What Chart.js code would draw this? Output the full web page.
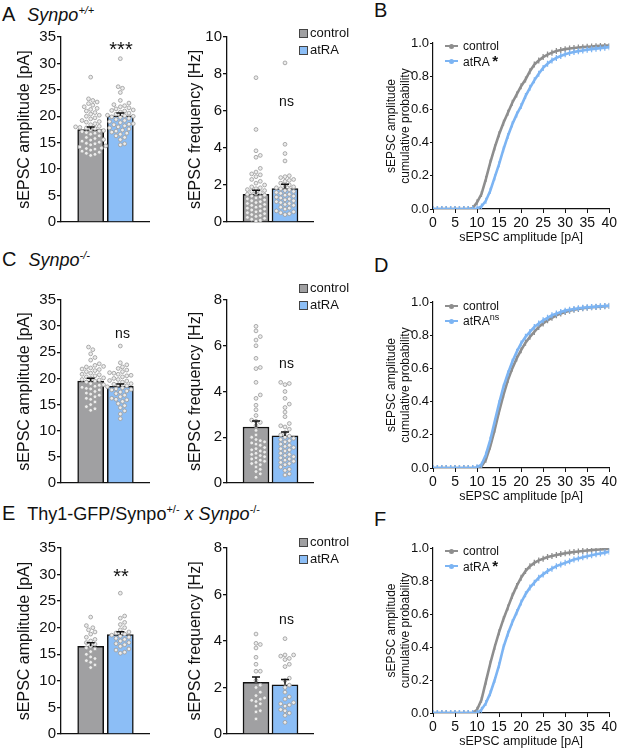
<!DOCTYPE html>
<html>
<head>
<meta charset="utf-8">
<script src="https://cdn.jsdelivr.net/npm/chart.js@4.4.0/dist/chart.umd.min.js"></script>
<style>
  body { margin: 0; background: #fff; font-family: "Liberation Sans", Arial, sans-serif; color: #111; }
  #fig { position: relative; width: 617px; height: 748px; overflow: hidden; }
  #fig canvas, .t { position: absolute; }
  .t { white-space: nowrap; }
  .head { font-size: 20px; line-height: 20px; }
  .head .g { font-style: italic; font-size: 18px; margin-left: 12px; }
  .head sup { font-size: 11px; vertical-align: 7px; line-height: 0; }
  .leg { font-size: 13px; line-height: 16px; }
  .cleg { font-size: 12px; line-height: 16px; }
  .cleg sup { font-size: 9px; vertical-align: 5px; line-height: 0; }
  .sig { width: 60px; text-align: center; }
</style>
</head>
<body>
<div id="fig"></div>
<script>
const groups = ['control', 'atRA'];

// bar heights (mean) and SEM
const ampMeanA = [17.5, 20.1];
const ampSemA = [0.45, 0.5];
const freqMeanA = [1.5, 1.81];
const freqSemA = [0.21, 0.23];
const ampMeanC = [19.5, 18.5];
const ampSemC = [0.55, 0.45];
const freqMeanC = [2.45, 2.06];
const freqSemC = [0.26, 0.17];
const ampMeanE = [16.5, 18.7];
const ampSemE = [0.65, 0.55];
const freqMeanE = [2.22, 2.12];
const freqSemE = [0.23, 0.22];

// single cells
const ampCtrlA = [27.4, 23.3, 23.0, 22.7, 22.4, 22.1, 21.8, 21.5, 21.3, 21.0, 20.7, 20.4, 20.2, 20.0, 19.7, 19.5, 19.2, 18.9,
  18.6, 18.4, 18.1, 17.9, 17.8, 17.7, 17.5, 17.3, 17.1, 16.9, 16.6, 16.3, 16.0, 15.8, 15.6, 15.3, 15.1, 14.9, 14.6, 14.4,
  14.2, 14.0, 13.8, 13.6, 13.4, 13.2, 13.0, 12.8, 12.6, 16.8, 17.2, 18.0, 15.5, 19.0, 14.8, 13.9];
const ampAtraA = [30.9, 25.6, 25.3, 24.5, 23.0, 22.5, 22.2, 22.0, 21.8, 21.6, 21.4, 21.2, 21.0, 20.8, 20.6, 20.4, 20.2, 20.0,
  19.8, 19.6, 19.4, 19.2, 19.0, 18.8, 18.6, 18.4, 18.2, 18.0, 17.8, 17.6, 17.4, 17.2, 17.0, 16.8, 16.6, 16.3, 16.0, 15.6,
  14.8, 14.6, 20.1, 19.9, 21.1, 18.5];
const freqCtrlA = [7.8, 5.0, 3.85, 3.6, 3.5, 2.9, 2.7, 2.6, 2.55, 2.45, 2.3, 2.2, 2.0, 1.9, 1.85, 1.8, 1.75, 1.7, 1.6, 1.55,
  1.5, 1.45, 1.4, 1.3, 1.25, 1.2, 1.1, 1.05, 1.0, 0.95, 0.9, 0.85, 0.8, 0.7, 0.65, 0.6, 0.55, 0.5, 0.4, 0.35, 0.3, 0.25,
  0.2, 0.15, 0.1, 1.15, 1.35, 0.75, 0.45, 1.65, 2.1, 0.05];
const freqAtraA = [8.6, 4.2, 3.7, 3.3, 2.5, 2.45, 2.4, 2.3, 2.2, 2.1, 2.0, 1.95, 1.9, 1.85, 1.8, 1.7, 1.6, 1.55, 1.5, 1.45,
  1.4, 1.3, 1.25, 1.2, 1.1, 1.05, 1.0, 0.95, 0.9, 0.8, 0.75, 0.7, 0.6, 0.55, 0.5, 0.45, 0.4, 1.75, 1.65, 2.25, 1.35, 1.15];

const ampCtrlC = [26.0, 25.5, 24.7, 24.0, 23.5, 22.8, 22.5, 22.2, 22.0, 21.8, 21.5, 21.3, 21.0, 20.8, 20.5, 20.3, 20.0, 19.8,
  19.5, 19.3, 19.0, 18.8, 18.5, 18.3, 18.0, 17.8, 17.5, 17.2, 17.0, 16.8, 16.5, 16.2, 16.0, 15.5, 15.0, 14.6, 14.2, 13.9,
  21.7, 20.7, 19.7, 18.7, 22.3, 20.1, 18.1];
const ampAtraC = [26.2, 23.0, 22.6, 22.2, 21.9, 21.6, 21.3, 21.0, 20.8, 20.5, 20.3, 20.0, 19.8, 19.5, 19.3, 19.0, 18.8, 18.6,
  18.4, 18.2, 18.0, 17.8, 17.6, 17.4, 17.1, 16.8, 16.5, 16.2, 15.9, 15.6, 15.2, 14.8, 14.4, 13.8, 13.2, 12.3, 20.6, 19.6,
  18.9, 17.9, 21.1, 16.0];
const freqCtrlC = [6.85, 6.65, 6.4, 6.25, 6.0, 5.45, 5.05, 5.0, 4.4, 3.85, 3.7, 3.4, 3.2, 2.95, 2.75, 2.7, 2.65, 2.5, 2.3,
  2.1, 2.0, 1.9, 1.85, 1.8, 1.7, 1.65, 1.55, 1.5, 1.45, 1.4, 1.35, 1.3, 1.25, 1.2, 1.1, 1.05, 1.0, 0.95, 0.9, 0.8, 0.7,
  0.6, 0.5, 0.4, 0.25, 1.75, 1.15, 0.85];
const freqAtraC = [4.4, 4.35, 4.3, 4.0, 3.7, 3.45, 3.3, 3.1, 2.9, 2.6, 2.5, 2.45, 2.35, 2.2, 2.1, 2.05, 2.0, 1.95, 1.9, 1.85,
  1.8, 1.7, 1.6, 1.55, 1.5, 1.45, 1.4, 1.3, 1.2, 1.15, 1.1, 1.05, 1.0, 0.9, 0.85, 0.8, 0.7, 0.6, 0.55, 0.4, 0.35, 1.65,
  1.25, 0.95];

const ampCtrlE = [22.0, 20.4, 20.0, 19.6, 19.2, 18.8, 18.2, 17.8, 17.5, 17.2, 16.9, 16.5, 16.0, 15.5, 15.0, 14.5, 14.2,
  13.8, 13.5, 13.0, 12.5, 16.2];
const ampAtraE = [26.5, 22.2, 21.8, 21.0, 20.6, 20.0, 19.6, 19.2, 19.0, 18.8, 18.6, 18.4, 18.2, 18.0, 17.8, 17.5, 17.2,
  17.0, 16.8, 16.5, 16.0, 15.8, 15.4, 15.2];
const freqCtrlE = [4.3, 3.9, 3.85, 3.7, 3.3, 3.0, 2.7, 2.7, 2.3, 2.1, 2.0, 1.8, 1.65, 1.5, 1.45, 1.4, 1.3, 1.2, 1.0, 0.95,
  0.65, 1.55];
const freqAtraE = [4.1, 3.4, 3.4, 3.35, 3.25, 3.2, 3.0, 2.9, 2.4, 2.3, 2.0, 1.8, 1.6, 1.35, 1.3, 1.25, 1.2, 1.05, 1.0, 0.9,
  0.8, 0.5, 1.5, 2.1];

// cumulative probability, 1 pA bins
const cumX = [0, 1, 2, 3, 4, 5, 6, 7, 8, 9, 10, 11, 12, 13, 14, 15, 16, 17, 18, 19, 20,
  21, 22, 23, 24, 25, 26, 27, 28, 29, 30, 31, 32, 33, 34, 35, 36, 37, 38, 39, 40];
const cumCtrlB = [0, 0, 0, 0, 0, 0, 0, 0, 0, 0.005, 0.04, 0.09, 0.18, 0.28, 0.37, 0.45, 0.52, 0.58, 0.64, 0.69, 0.74,
  0.78, 0.83, 0.87, 0.895, 0.915, 0.93, 0.942, 0.952, 0.958, 0.963, 0.967, 0.97, 0.973, 0.975, 0.977, 0.979, 0.981, 0.983, 0.984, 0.985];
const cumAtraB = [0, 0, 0, 0, 0, 0, 0, 0, 0, 0, 0.003, 0.015, 0.05, 0.11, 0.19, 0.27, 0.36, 0.44, 0.51, 0.57, 0.62,
  0.68, 0.73, 0.775, 0.815, 0.85, 0.875, 0.895, 0.91, 0.922, 0.932, 0.94, 0.946, 0.951, 0.955, 0.959, 0.963, 0.966, 0.969, 0.972, 0.975];
const cumCtrlD = [0, 0, 0, 0, 0, 0, 0, 0, 0, 0, 0, 0.01, 0.05, 0.13, 0.23, 0.34, 0.44, 0.53, 0.6, 0.66, 0.71,
  0.755, 0.79, 0.82, 0.85, 0.87, 0.89, 0.905, 0.92, 0.93, 0.94, 0.947, 0.953, 0.958, 0.962, 0.965, 0.968, 0.97, 0.972, 0.974, 0.976];
const cumAtraD = [0, 0, 0, 0, 0, 0, 0, 0, 0, 0, 0.005, 0.02, 0.08, 0.17, 0.28, 0.39, 0.49, 0.57, 0.64, 0.7, 0.75,
  0.79, 0.82, 0.85, 0.87, 0.89, 0.905, 0.92, 0.93, 0.94, 0.948, 0.953, 0.958, 0.962, 0.965, 0.968, 0.97, 0.972, 0.974, 0.976, 0.978];
const cumCtrlF = [0, 0, 0, 0, 0, 0, 0, 0, 0, 0, 0.02, 0.08, 0.19, 0.3, 0.4, 0.49, 0.57, 0.64, 0.71, 0.77, 0.82,
  0.86, 0.89, 0.91, 0.925, 0.935, 0.945, 0.952, 0.958, 0.963, 0.968, 0.972, 0.976, 0.979, 0.982, 0.985, 0.987, 0.989, 0.991, 0.993, 0.995];
const cumAtraF = [0, 0, 0, 0, 0, 0, 0, 0, 0, 0, 0, 0.02, 0.06, 0.12, 0.2, 0.29, 0.4, 0.48, 0.55, 0.61, 0.67,
  0.72, 0.76, 0.79, 0.82, 0.84, 0.86, 0.875, 0.89, 0.9, 0.91, 0.92, 0.93, 0.937, 0.944, 0.95, 0.956, 0.962, 0.967, 0.972, 0.977];

const gray = '#a0a0a2';
const blue = '#8cbef6';
const lineGray = '#8e8e8e';
const lineBlue = '#7cb4f3';
const ink = '#111';

Chart.defaults.font.family = "'Liberation Sans', Arial, sans-serif";
Chart.defaults.color = ink;
Chart.defaults.animation = false;

const fig = document.getElementById('fig');

function makeCanvas(x, y, w, h) {
  const c = document.createElement('canvas');
  c.width = w;
  c.height = h;
  c.style.left = x + 'px';
  c.style.top = y + 'px';
  fig.appendChild(c);
  return c;
}

function label(x, y, cls, html) {
  const d = document.createElement('div');
  d.className = 't ' + cls;
  d.style.left = x + 'px';
  d.style.top = y + 'px';
  d.innerHTML = html;
  fig.appendChild(d);
  return d;
}

// spread dots sideways so they don't overlap (pixel space)
function swarm(vals, pxX, pxY) {
  const d = 4.3;
  const idx = vals.map((v, i) => i).sort((a, b) => vals[a] - vals[b]);
  const placed = [];
  const off = [];
  idx.forEach(i => {
    const py = vals[i] * pxY;
    for (let k = 0; k < 200; k++) {
      const dx = (k % 2 ? 1 : -1) * Math.ceil(k / 2) * d / 2;
      if (placed.every(q => (q.x - dx) ** 2 + (q.y - py) ** 2 >= d * d)) {
        placed.push({ x: dx, y: py });
        off[i] = dx / pxX;
        break;
      }
    }
  });
  return off;
}

const semBars = {
  id: 'semBars',
  afterDatasetsDraw(chart, args, opts) {
    const { ctx, scales: { x, y } } = chart;
    ctx.save();
    ctx.strokeStyle = ink;
    ctx.lineWidth = 1.5;
    opts.mean.forEach((m, i) => {
      const px = x.getPixelForValue(i + 1);
      const y0 = y.getPixelForValue(m);
      const y1 = y.getPixelForValue(m + opts.sem[i]);
      ctx.beginPath();
      ctx.moveTo(px, y0);
      ctx.lineTo(px, y1);
      ctx.moveTo(px - 4, y1);
      ctx.lineTo(px + 4, y1);
      ctx.stroke();
    });
    ctx.restore();
  }
};

function barPanel(p) {
  const h = p.bottom - p.top;
  const pxY = h / p.max;
  const pxX = (p.right - p.axisX) / 3;
  const dots = [];
  [p.ctrl, p.atra].forEach((vals, g) => {
    swarm(vals, pxX, pxY).forEach((dx, i) => dots.push({ x: g + 1 + dx, y: vals[i] }));
  });
  const cv = makeCanvas(p.left, p.top - 10, p.right - p.left, h + 20);
  new Chart(cv, {
    type: 'bar',
    data: {
      datasets: [
        {
          type: 'scatter', data: dots, order: 0,
          pointRadius: 1.9, pointBorderWidth: 0.8,
          pointBackgroundColor: '#ececec', pointBorderColor: '#999'
        },
        {
          type: 'bar', order: 1,
          data: groups.map((g, i) => ({ x: i + 1, y: p.mean[i] })),
          backgroundColor: [gray, blue], borderColor: ink, borderWidth: 1.5,
          barThickness: 26, grouped: false
        }
      ]
    },
    options: {
      responsive: false,
      events: [],
      layout: { autoPadding: false, padding: { top: 10, bottom: 10, left: 0, right: 0 } },
      plugins: { legend: { display: false }, tooltip: { enabled: false }, semBars: { mean: p.mean, sem: p.sem } },
      scales: {
        x: {
          type: 'linear', min: 0, max: 3, offset: false,
          ticks: { display: false },
          grid: { display: false, offset: false },
          border: { color: ink, width: 1.3 },
          afterFit: s => { s.height = 0; }
        },
        y: {
          min: 0, max: p.max,
          ticks: { stepSize: p.step, font: { size: 15 }, padding: 1, color: ink },
          grid: { drawOnChartArea: false, tickLength: 4, color: ink, lineWidth: 1.3 },
          border: { color: ink, width: 1.3 },
          title: { display: true, text: p.title, font: { size: 16 }, color: ink, padding: { top: p.titlePad, bottom: 0 } },
          afterFit: s => { s.width = p.axisX - p.left; }
        }
      }
    },
    plugins: [semBars]
  });
}

function curve(vals, color) {
  return {
    data: cumX.map((x, i) => ({ x, y: vals[i] })),
    borderColor: color, borderWidth: 2.6,
    pointStyle: 'line', rotation: 90, pointRadius: 3,
    pointBorderColor: color, pointBorderWidth: 1.3,
    tension: 0
  };
}

function cumPanel(p) {
  const h = p.bottom - p.top;
  const cv = makeCanvas(380, p.top - 9, 239, h + 9 + 36 + 4);
  new Chart(cv, {
    type: 'line',
    data: { datasets: [curve(p.atra, lineBlue), curve(p.ctrl, lineGray)] },
    options: {
      responsive: false,
      events: [],
      layout: { autoPadding: false, padding: { top: 9, bottom: 4, left: 0, right: 9 } },
      plugins: { legend: { display: false }, tooltip: { enabled: false } },
      scales: {
        x: {
          type: 'linear', min: 0, max: 40,
          ticks: { stepSize: 5, font: { size: 14 }, padding: 2, color: ink },
          grid: { drawOnChartArea: false, tickLength: 4, color: ink },
          border: { color: ink, width: 1.2 },
          title: { display: true, text: 'sEPSC amplitude [pA]', font: { size: 12.5 }, color: ink, padding: { top: 0, bottom: 0 } },
          afterFit: s => { s.height = 36; }
        },
        y: {
          min: 0, max: 1,
          ticks: { stepSize: 0.2, font: { size: 13 }, padding: 1, color: ink, callback: v => v.toFixed(1) },
          grid: { drawOnChartArea: false, tickLength: 3, color: ink },
          border: { color: ink, width: 1.2 },
          title: {
            display: true, text: ['sEPSC amplitude', 'cumulative probability'],
            font: { size: 12 }, color: ink, padding: { top: 4, bottom: 0 }
          },
          afterFit: s => { s.width = 53; }
        }
      }
    }
  });
}

function barLegend(cy) {
  [gray, blue].forEach((c, i) => {
    const y = cy + i * 17;
    const b = label(299, y - 4, '', '');
    b.style.cssText += 'width:7px;height:7px;border:1px solid #444;background:' + c;
    label(310, y - 8, 'leg', groups[i]);
  });
}

function cumLegend(cy, mark) {
  [lineGray, lineBlue].forEach((c, i) => {
    const y = cy + i * 15;
    const l = label(445, y - 1, '', '');
    l.style.cssText += 'width:13px;height:2px;background:' + c;
    const dot = label(449, y - 2.5, '', '');
    dot.style.cssText += 'width:5px;height:5px;border-radius:3px;background:' + c;
    label(463, y - 8, 'cleg', i ? groups[i] + mark : groups[i]);
  });
}

function sig(cx, top, size, text) {
  const d = label(cx - 30, top, 'sig', text);
  d.style.fontSize = size + 'px';
  d.style.lineHeight = size + 'px';
}

// rows: A/B, C/D, E/F
const rows = [
  { amp: [ampCtrlA, ampAtraA, ampMeanA, ampSemA], freq: [freqCtrlA, freqAtraA, freqMeanA, freqSemA], fmax: 10,
    cum: [cumCtrlB, cumAtraB], top: 37, bottom: 222, cTop: 43, cBottom: 209 },
  { amp: [ampCtrlC, ampAtraC, ampMeanC, ampSemC], freq: [freqCtrlC, freqAtraC, freqMeanC, freqSemC], fmax: 8,
    cum: [cumCtrlD, cumAtraD], top: 300, bottom: 483, cTop: 302, cBottom: 468 },
  { amp: [ampCtrlE, ampAtraE, ampMeanE, ampSemE], freq: [freqCtrlE, freqAtraE, freqMeanE, freqSemE], fmax: 8,
    cum: [cumCtrlF, cumAtraF], top: 548, bottom: 734, cTop: 548, cBottom: 713 }
];

rows.forEach(r => {
  barPanel({
    left: 0, axisX: 61, right: 150, top: r.top, bottom: r.bottom, max: 35, step: 5, titlePad: 15.4,
    title: 'sEPSC amplitude [pA]', ctrl: r.amp[0], atra: r.amp[1], mean: r.amp[2], sem: r.amp[3]
  });
  barPanel({
    left: 160, axisX: 227, right: 314, top: r.top, bottom: r.bottom, max: r.fmax, step: 2, titlePad: 26.4,
    title: 'sEPSC frequency [Hz]', ctrl: r.freq[0], atra: r.freq[1], mean: r.freq[2], sem: r.freq[3]
  });
  cumPanel({ top: r.cTop, bottom: r.cBottom, ctrl: r.cum[0], atra: r.cum[1] });
});

// panel letters and headings
label(2, 4, 'head', 'A<span class="g">Synpo<sup>+/+</sup></span>');
label(374, 0, 'head', 'B');
label(2, 249, 'head', 'C<span class="g">Synpo<sup>-/-</sup></span>');
label(374, 255, 'head', 'D');
label(2, 503, 'head', 'E<span class="g" style="font-style:normal">Thy1-GFP/Synpo<sup>+/-</sup> <i>x Synpo</i><sup>-/-</sup></span>');
label(374, 509, 'head', 'F');

// legends
barLegend(33);
barLegend(288);
barLegend(542);
cumLegend(46, ' <b style="font-size:15px">*</b>');
cumLegend(306, '<sup>ns</sup>');
cumLegend(551, ' <b style="font-size:15px">*</b>');

// significance marks
sig(121, 39, 20, '***');
sig(286.5, 94, 14, 'ns');
sig(122.5, 326, 14, 'ns');
sig(286.5, 356, 14, 'ns');
sig(121, 566, 20, '**');
sig(286.5, 612, 14, 'ns');
</script>
</body>
</html>
